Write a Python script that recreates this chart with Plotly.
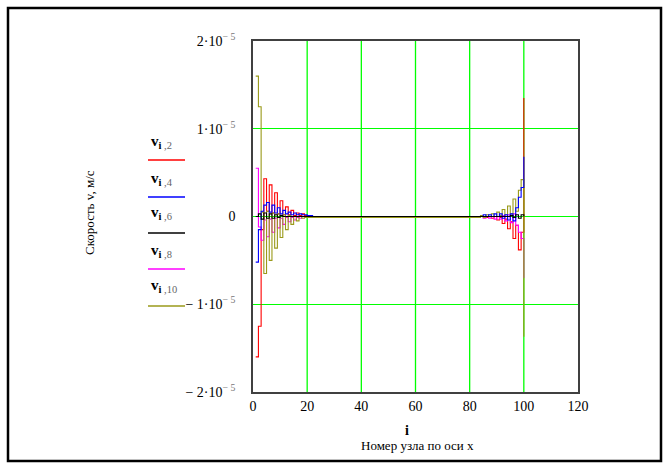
import plotly.graph_objects as go

# node index i
i_nodes = list(range(1, 101))

# velocities in units of 1e-5 m/s, i = 1..100
v2 = [-1.6, -1.25, -0.15, 0.43, 0.06, 0.36, 0.04, 0.27, 0.03, 0.18,
      0.02, 0.11, 0.02, 0.07, 0.01, 0.04, 0.01, 0.03, 0.01, 0.01,
      0, 0, 0, 0, 0, 0, 0, 0, 0, 0,
      0, 0, 0, 0, 0, 0, 0, 0, 0, 0,
      0, 0, 0, 0, 0, 0, 0, 0, 0, 0,
      0, 0, 0, 0, 0, 0, 0, 0, 0, 0,
      0, 0, 0, 0, 0, 0, 0, 0, 0, 0,
      0, 0, 0, 0, 0, 0, 0, 0, 0, 0,
      0, 0, 0, 0, 0, -0.01, 0, -0.02, 0, -0.04,
      -0.01, -0.08, -0.03, -0.14, -0.06, -0.25, -0.1, -0.38, -0.18, 1.35]

v4 = [-0.52, -0.15, 0.06, 0.13, 0.16, 0.05, 0.13, 0.04, 0.1, 0.03,
      0.07, 0.03, 0.05, 0.02, 0.04, 0.02, 0.03, 0.02, 0.02, 0.01,
      0.01, 0, 0, 0, 0, 0, 0, 0, 0, 0,
      0, 0, 0, 0, 0, 0, 0, 0, 0, 0,
      0, 0, 0, 0, 0, 0, 0, 0, 0, 0,
      0, 0, 0, 0, 0, 0, 0, 0, 0, 0,
      0, 0, 0, 0, 0, 0, 0, 0, 0, 0,
      0, 0, 0, 0, 0, 0, 0, 0, 0, 0,
      0, 0, 0, 0, 0.02, 0, 0.02, 0, 0.03, 0,
      0.03, -0.02, 0.02, -0.04, 0.03, -0.05, 0.1, 0.22, 0.33, 0.68]

v6 = [0.0, 0.03, -0.03, 0.04, -0.02, 0.03, -0.02, 0.02, -0.01, 0.01,
      0, 0, 0, 0, 0, 0, 0, 0, 0, 0,
      0, 0, 0, 0, 0, 0, 0, 0, 0, 0,
      0, 0, 0, 0, 0, 0, 0, 0, 0, 0,
      0, 0, 0, 0, 0, 0, 0, 0, 0, 0,
      0, 0, 0, 0, 0, 0, 0, 0, 0, 0,
      0, 0, 0, 0, 0, 0, 0, 0, 0, 0,
      0, 0, 0, 0, 0, 0, 0, 0, 0, 0,
      0, 0, 0, 0, 0, 0, 0, 0, 0, 0,
      0, 0, 0, 0, 0.01, -0.01, 0.02, -0.02, 0.02, 0.0]

v8 = [0.55, -0.12, -0.27, -0.04, -0.23, -0.03, -0.18, -0.02, -0.13, -0.02,
      -0.09, -0.01, -0.06, -0.01, -0.04, -0.01, -0.02, 0, -0.01, 0,
      0, 0, 0, 0, 0, 0, 0, 0, 0, 0,
      0, 0, 0, 0, 0, 0, 0, 0, 0, 0,
      0, 0, 0, 0, 0, 0, 0, 0, 0, 0,
      0, 0, 0, 0, 0, 0, 0, 0, 0, 0,
      0, 0, 0, 0, 0, 0, 0, 0, 0, 0,
      0, 0, 0, 0, 0, 0, 0, 0, 0, 0,
      0, 0, 0, 0, -0.02, 0, -0.02, 0, -0.03, 0,
      -0.03, 0.01, -0.05, 0.02, -0.07, 0.03, -0.1, -0.18, -0.25, -0.7]

v10 = [1.6, 1.25, 0.05, -0.65, 0.06, -0.5, 0.04, -0.36, 0.03, -0.24,
       0.02, -0.15, 0.01, -0.09, 0, -0.05, 0, -0.02, -0.01, -0.01,
       -0.01, -0.01, -0.01, -0.01, -0.01, -0.01, -0.01, -0.01, -0.01, -0.01,
       -0.01, -0.01, -0.01, -0.01, -0.01, -0.01, -0.01, -0.01, -0.01, -0.01,
       -0.01, -0.01, -0.01, -0.01, -0.01, -0.01, -0.01, -0.01, -0.01, -0.01,
       -0.01, -0.01, -0.01, -0.01, -0.01, -0.01, -0.01, -0.01, -0.01, -0.01,
       -0.01, -0.01, -0.01, -0.01, -0.01, -0.01, -0.01, -0.01, -0.01, -0.01,
       -0.01, -0.01, -0.01, -0.01, -0.01, -0.01, -0.01, -0.01, -0.01, -0.01,
       -0.01, -0.01, -0.01, 0.01, -0.01, 0.02, 0, 0.03, 0, 0.05,
       0.01, 0.08, 0.02, 0.12, 0.03, 0.2, 0.06, 0.3, 0.42, -1.37]

SCALE = 1e-5
series_names = ["v<sub>i,2</sub>", "v<sub>i,4</sub>", "v<sub>i,6</sub>", "v<sub>i,8</sub>", "v<sub>i,10</sub>"]
legend_labels = ["2", "4", "6", "8", "10"]
colors = ["#ff0000", "#0000ff", "#000000", "#ff00ff", "#9a9a1a"]
series = [v2, v4, v6, v8, v10]
draw_order = [0, 3, 4, 1, 2]  # red, magenta, olive, blue, black on top

y_tickvals = [2e-5, 1e-5, 0, -1e-5, -2e-5]
exp = "<sup><span style='color:#777777'>− 5</span></sup>"
y_ticktext = ["2·10" + exp, "1·10" + exp, "0", "− 1·10" + exp, "− 2·10" + exp]
x_tickvals = [0, 20, 40, 60, 80, 100, 120]
x_gridvals = [20, 40, 60, 80, 100]

SERIF = "Liberation Serif, Times New Roman, serif"
GRID = "#00ff00"

fig = go.Figure()

L, R, T, B = 253, 89, 41, 74
W, H = 667, 466
PW, PH = W - L - R, H - T - B


def px(x):
    return (x - L) / PW


def py(y):
    return (H - B - y) / PH


shapes = [dict(type="rect", xref="paper", yref="paper",
               x0=px(8), x1=px(661), y0=py(8), y1=py(461),
               line=dict(color="black", width=2.5), layer="below")]
# vertical green grid lines on the x scale
for gx in x_gridvals:
    shapes.append(dict(type="line", xref="x", yref="paper", x0=gx, x1=gx, y0=0, y1=1,
                       line=dict(color=GRID, width=1.3), layer="below"))

for k in draw_order:
    fig.add_trace(go.Scatter(
        x=i_nodes, y=[v * SCALE for v in series[k]], mode="lines", name=series_names[k],
        line=dict(color=colors[k], width=1.1, shape="hv"), showlegend=False))

annotations = []
legend_label_y = [142, 179, 213, 251, 286]
legend_line_y = [160, 197, 233, 269, 306]
for lab, ly, lny, col in zip(legend_labels, legend_label_y, legend_line_y, colors):
    annotations.append(dict(
        xref="paper", yref="paper", x=px(149), y=py(ly), xanchor="left", yanchor="middle",
        text="<b>v</b><sub><b>i</b><span style='color:#666666'> ,%s</span></sub>" % lab,
        showarrow=False, font=dict(family=SERIF, size=15, color="black")))
    shapes.append(dict(type="line", xref="paper", yref="paper",
                       x0=px(148), x1=px(185), y0=py(lny), y1=py(lny),
                       line=dict(color=col, width=1.5)))

annotations.append(dict(xref="paper", yref="paper", x=px(89), y=py(213),
                        xanchor="center", yanchor="middle",
                        text="Скорость v, м/с", textangle=-90, showarrow=False,
                        font=dict(family=SERIF, size=13, color="black")))
annotations.append(dict(xref="paper", yref="paper", x=px(407), y=py(430),
                        xanchor="center", yanchor="middle",
                        text="<b>i</b>", showarrow=False,
                        font=dict(family=SERIF, size=14, color="black")))
annotations.append(dict(xref="paper", yref="paper", x=px(417), y=py(445),
                        xanchor="center", yanchor="middle",
                        text="Номер узла по оси х", showarrow=False,
                        font=dict(family=SERIF, size=13, color="black")))

fig.update_layout(
    width=W, height=H, margin=dict(l=L, r=R, t=T, b=B, pad=0),
    paper_bgcolor="white", plot_bgcolor="white",
    shapes=shapes, annotations=annotations,
    xaxis=dict(range=[0, 120], tickmode="array", tickvals=x_tickvals,
               ticktext=[str(v) for v in x_tickvals],
               showgrid=False, zeroline=False,
               showline=True, linecolor="#404040", linewidth=1.6, mirror=True,
               ticks="", tickfont=dict(family=SERIF, size=14, color="black")),
    yaxis=dict(range=[-2e-5, 2e-5], tickmode="array", tickvals=y_tickvals, ticktext=y_ticktext,
               showgrid=True, gridcolor=GRID, gridwidth=1.3,
               zeroline=True, zerolinecolor=GRID, zerolinewidth=1.3,
               showline=True, linecolor="#404040", linewidth=1.6, mirror=True,
               ticks="", ticklabelstandoff=13,
               tickfont=dict(family=SERIF, size=14, color="black")),
)

fig.write_html("out.html")
